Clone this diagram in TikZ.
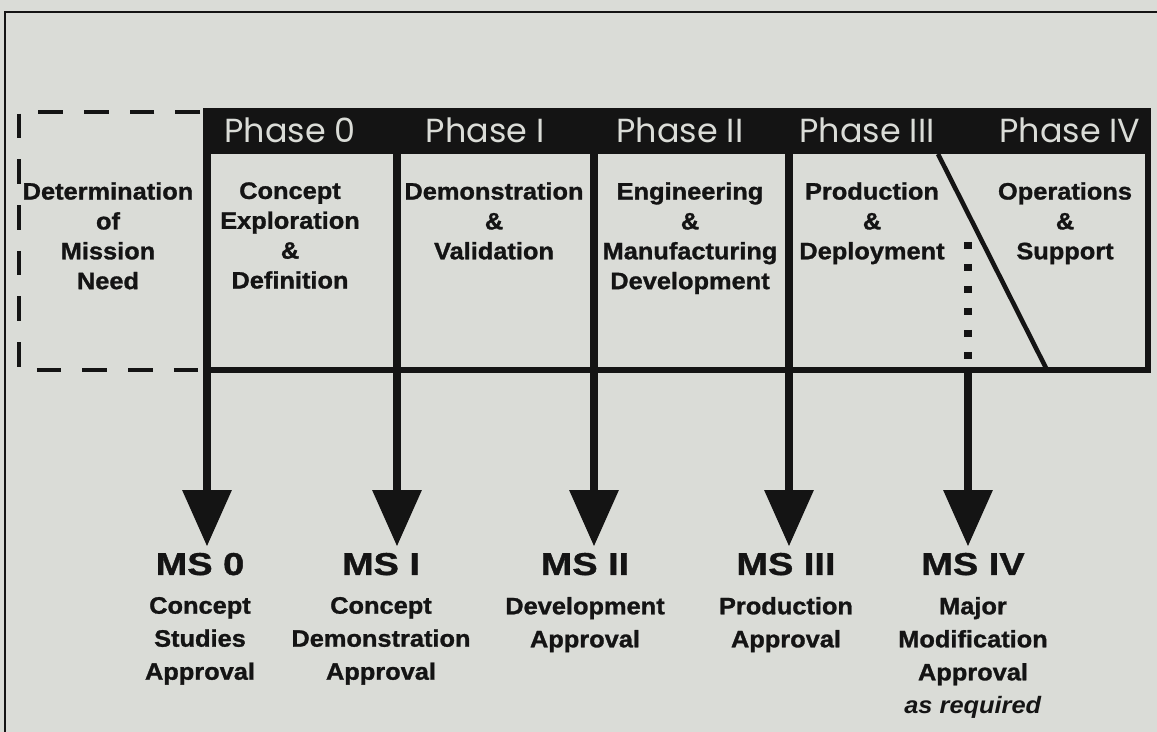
\documentclass[tikz,border=0pt]{standalone}
\usepackage{fontspec}
\setmainfont{Liberation Sans}
\newfontfamily\phasefont{Poppins}
\newfontfamily\heavyfont{Liberation Sans}[FakeStretch=1.07, BoldFeatures={FakeBold=1.2}]
\newfontfamily\msfont{Liberation Sans}[FakeStretch=1.2, BoldFeatures={FakeBold=1.2}]
\usetikzlibrary{arrows.meta, positioning}
\definecolor{paper}{HTML}{DADCD7}
\definecolor{ink}{HTML}{141414}

\tikzset{
  phasename/.style={anchor=base, text=paper, inner sep=0pt,
    font=\phasefont\fontsize{19}{21}\selectfont},
  phasetext/.style={anchor=north, align=center, inner sep=0pt, text=ink,
    font=\heavyfont\bfseries\fontsize{13.5}{17}\selectfont},
  msname/.style={anchor=base, inner sep=0pt, text=ink,
    font=\msfont\bfseries\fontsize{18}{20}\selectfont},
  msnote/.style={align=center, inner sep=0pt, text=ink,
    font=\heavyfont\bfseries\fontsize{13.5}{18.8}\selectfont},
  msarrow/.style={draw=ink, line width=4.5pt, shorten >=3.5pt,
    -{Triangle[width=27pt, length=32pt]}},
  dashbox/.style={draw=ink, line width=2.8pt, dash pattern=on 14pt off 12pt},
  dotline/.style={draw=ink, line width=4pt, dash pattern=on 4pt off 8.5pt},
  boxline/.style={draw=ink, line width=3pt},
}

\begin{document}
\begin{tikzpicture}[x=0.02cm, y=-0.02cm]
  \useasboundingbox (0,0) rectangle (1157,732);
  \fill[paper] (0,0) rectangle (1157,732);
  \draw[ink, line width=1pt] (5,732) -- (5,12) -- (1157,12);

  % phase header
  \fill[ink] (203,108) rectangle (1150,154);
  \node[phasename] (ph0) at (290,143) {Phase 0};
  \node[phasename] (ph1) at (485,143) {Phase I};
  \node[phasename] (ph2) at (680,143) {Phase II};
  \node[phasename] (ph3) at (867,143) {Phase III};
  \node[phasename] (ph4) at (1070,143) {Phase IV};

  % pre-phase 0 box
  \draw[dashbox] (200,112) -- (19,112) -- (19,370) -- (203,370);

  \coordinate (a0) at (207,130);
  \coordinate (a1) at (397,130);
  \coordinate (a2) at (594,130);
  \coordinate (a3) at (789,130);
  \coordinate (a4) at (968,242);
  \coordinate (bl) at (207,370);

  \draw[boxline] (bl) -- (1148,370) -- (1148,108);
  \draw[boxline, line width=2.6pt] (938,154) -- (1047,370);

  \node[phasetext] (need) at (108,182) {Determination\\of\\Mission\\Need};
  \node[phasetext] (ced) at (290,182) {Concept\\Exploration\\\&\\Definition};
  \node[phasetext] (dv) at (494,182) {Demonstration\\\&\\Validation};
  \node[phasetext] (emd) at (690,182) {Engineering\\\&\\Manufacturing\\Development};
  \node[phasetext] (pd) at (872,182) {Production\\\&\\Deployment};
  \node[phasetext] (os) at (1065,182) {Operations\\\&\\Support};

  % milestones
  \node[msname] (ms0) at (200,575) {MS 0};
  \node[msname] (ms1) at (381,575) {MS I};
  \node[msname] (ms2) at (585,575) {MS II};
  \node[msname] (ms3) at (786,575) {MS III};
  \node[msname] (ms4) at (973,575) {MS IV};

  \node[msnote, below=12pt of ms0] (ms0t) {Concept\\Studies\\Approval};
  \node[msnote, below=12pt of ms1] (ms1t) {Concept\\Demonstration\\Approval};
  \node[msnote, below=12pt of ms2] (ms2t) {Development\\Approval};
  \node[msnote, below=12pt of ms3] (ms3t) {Production\\Approval};
  \node[msnote, below=12pt of ms4] (ms4t) {Major\\Modification\\Approval\\\textit{as required}};

  \draw[msarrow] (a0) -- (a0 |- ms0.north);
  \draw[msarrow] (a1) -- (a1 |- ms1.north);
  \draw[msarrow] (a2) -- (a2 |- ms2.north);
  \draw[msarrow] (a3) -- (a3 |- ms3.north);
  \draw[dotline] (a4) -- (a4 |- bl);
  \draw[msarrow] (a4 |- bl) -- (a4 |- ms4.north);
\end{tikzpicture}
\end{document}
